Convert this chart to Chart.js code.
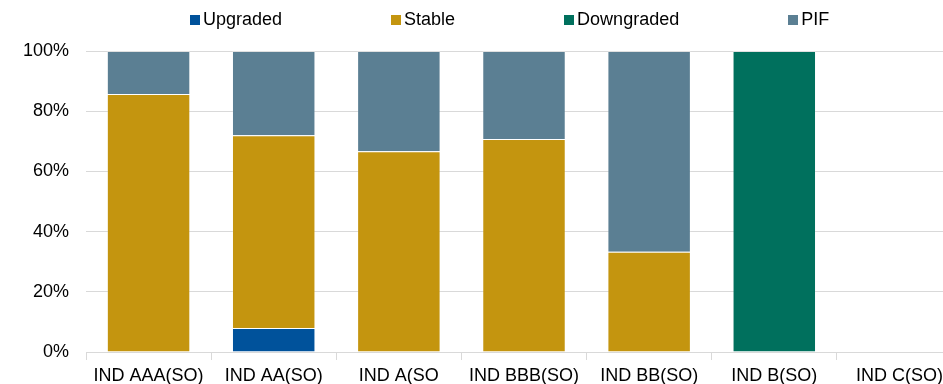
<!DOCTYPE html>
<html>
<head>
<meta charset="utf-8">
<script src="https://cdn.jsdelivr.net/npm/chart.js@4"></script>
<style>
    html, body { margin: 0; padding: 0; overflow: hidden; background: #fff; }
    #wrap { position: relative; width: 962px; height: 384px; }
    #legend { position: absolute; top: 9px; left: 190px; display: flex; gap: 109px;
              font-family: "Liberation Sans", Arial, sans-serif; font-size: 18px; color: #000; }
    #legend span.item { display: flex; align-items: center; }
    #legend span.box { width: 10px; height: 10px; margin-right: 3px; }
</style>
</head>
<body>
<div id="wrap">
    <div id="legend"></div>
    <canvas id="chart"></canvas>
</div>
<script>
"use strict"

// Data
const categories = ['IND AAA(SO)', 'IND AA(SO)', 'IND A(SO', 'IND BBB(SO)', 'IND BB(SO)', 'IND B(SO)', 'IND C(SO)'];
const upgraded = [null, 8, null, null, null, null, null];
const stable = [85.7, 64, 66.7, 70.8, 33.3, null, null];
const downgraded = [null, null, null, null, null, 100, null];
const pif = [14.3, 28, 33.3, 29.2, 66.7, null, null];
const yTicks = [0, 20, 40, 60, 80, 100];

const seriesNames = ['Upgraded', 'Stable', 'Downgraded', 'PIF'];
const seriesColors = ['#00529b', '#c4950f', '#00705d', '#5b7f93'];
const seriesData = [upgraded, stable, downgraded, pif];

window.onload = init;

function init() {
    buildLegend();
    drawChart();
}

// Legend som html
function buildLegend() {
    const legend = document.getElementById('legend');
    seriesNames.forEach((name, i) => {
        const item = document.createElement('span');
        item.className = 'item';
        const box = document.createElement('span');
        box.className = 'box';
        box.style.background = seriesColors[i];
        item.appendChild(box);
        item.appendChild(document.createTextNode(name));
        legend.appendChild(item);
    });
}

function drawChart() {
    const font = { family: '"Liberation Sans", Arial, sans-serif', size: 18 };
    const gridColor = '#d9d9d9';

    new Chart(document.getElementById('chart'), {
        type: 'bar',
        data: {
            labels: categories,
            datasets: seriesNames.map((name, i) => ({
                label: name,
                data: seriesData[i],
                backgroundColor: seriesColors[i],
                borderColor: 'rgba(255,255,255,0.2)',
                borderWidth: 1,
                categoryPercentage: 1,
                barPercentage: 0.667
            }))
        },
        options: {
            responsive: true,
            maintainAspectRatio: false,
            animation: false,
            layout: { padding: { top: 51, right: 0, left: 0, bottom: 0 } },
            plugins: {
                legend: { display: false },
                tooltip: { enabled: false }
            },
            scales: {
                x: {
                    stacked: true,
                    afterFit: (scale) => { scale.height = 32; },
                    grid: { offset: true, drawOnChartArea: false, color: gridColor, tickLength: 8 },
                    border: { color: gridColor },
                    ticks: { font: font, color: '#000', padding: 5, maxRotation: 0, autoSkip: false }
                },
                y: {
                    stacked: true,
                    min: 0,
                    max: 100,
                    afterBuildTicks: (scale) => {
                        scale.ticks = yTicks.map((v) => ({ value: v }));
                    },
                    afterFit: (scale) => { scale.width = 86; },
                    grid: { color: gridColor, drawTicks: false },
                    border: { display: false },
                    ticks: {
                        font: font,
                        color: '#000',
                        padding: 17,
                        callback: (v) => v + '%'
                    }
                }
            }
        }
    });
}
</script>
</body>
</html>
